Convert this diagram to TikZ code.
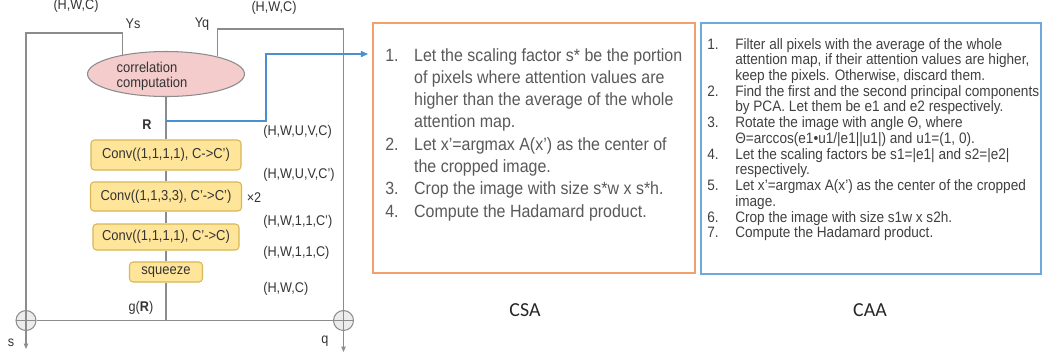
\documentclass[tikz,border=0pt]{standalone}
\usepackage{fontspec}
\setmainfont{Liberation Sans}[FakeStretch=0.9]
\newfontfamily\calfont{Carlito}
\usetikzlibrary{shapes.geometric,arrows.meta,calc}

\definecolor{wiregray}{HTML}{8C8C8C}
\definecolor{txtgray}{HTML}{333333}
\definecolor{csatext}{HTML}{595959}
\definecolor{caatext}{HTML}{404040}
\definecolor{corrpink}{HTML}{F4CCCC}
\definecolor{convfill}{HTML}{FFE599}
\definecolor{convline}{HTML}{D6B656}
\definecolor{csaline}{HTML}{F1A06B}
\definecolor{caaline}{HTML}{6FA8DC}
\definecolor{arrowblue}{HTML}{4A90D0}

\tikzset{
  wire/.style={draw=wiregray,line width=0.6pt},
  lbl/.style={inner sep=0pt,font=\fontsize{8}{8.5}\selectfont,text=txtgray},
  dimlbl/.style={lbl,anchor=west},
  convbox/.style={draw=convline,fill=convfill,rounded corners=2pt,line width=0.6pt,
    inner sep=0pt,font=\fontsize{8.2}{8.5}\selectfont,text=txtgray},
  plusnode/.style={circle,draw=wiregray,fill=gray!15,line width=0.6pt,minimum size=0.4cm,inner sep=0pt,
    path picture={\draw[wiregray,line width=0.6pt]
      (path picture bounding box.north) -- (path picture bounding box.south)
      (path picture bounding box.west) -- (path picture bounding box.east);}},
  listbox/.style={draw,line width=0.7pt,inner sep=0pt},
  caption/.style={font=\calfont\fontsize{11.3}{13}\selectfont,text=black!85},
}

\begin{document}
\begin{tikzpicture}[x=0.02cm,y=-0.02cm]
  \useasboundingbox (0,0) rectangle (1043,360);
  %% correlation and the conv stack
  \node[ellipse,draw=wiregray,fill=corrpink,line width=0.6pt,
    minimum width=3.14cm,minimum height=0.9cm,inner sep=0pt] (corr) at (166,74) {};
  \node[lbl,align=left,font=\fontsize{8.2}{8.5}\selectfont] (corrtxt) at (152,76.5) {correlation\\computation};

  \node[convbox,minimum width=3cm,minimum height=0.6cm] (conv1) at (166,155) {Conv((1,1,1,1), C->C’)};
  \node[convbox,minimum width=3.02cm,minimum height=0.58cm] (conv2) at (166,196.5) {Conv((1,1,3,3), C’->C’)};
  \node[convbox,minimum width=2.92cm,minimum height=0.52cm] (conv3) at (166,237) {Conv((1,1,1,1), C’->C)};
  \node[convbox,minimum width=1.46cm,minimum height=0.4cm] (squeeze) at (166,272) {squeeze};

  \node[plusnode] (plusS) at (26,320.5) {};
  \node[plusnode] (plusQ) at (343.5,320.5) {};

  \coordinate (sbend) at (26,33);
  \coordinate (qbend) at (343.5,29);
  \coordinate (sout) at (26,349);
  \coordinate (qout) at (343.5,352);
  \coordinate (rjoin) at (166,121);
  \coordinate (gjoin) at (166,320.5);
  \coordinate (rbend) at (266,54);
  \coordinate (csain) at (368,54);

  %% labels
  \node[lbl] (dimS) at (76,6) {(H,W,C)};
  \node[lbl] (dimQ) at (274,8) {(H,W,C)};
  \node[lbl] (ys) at (133,24) {Ys};
  \node[lbl] (yq) at (202,24) {Yq};
  \node[lbl,font=\fontsize{8}{8.5}\selectfont\bfseries] (rlbl) at (147,125) {R};
  \node[dimlbl] (dimR) at (263,132) {(H,W,U,V,C)};
  \node[dimlbl] (dim1) at (263,175) {(H,W,U,V,C’)};
  \node[dimlbl] (dim2) at (263,222) {(H,W,1,1,C’)};
  \node[dimlbl] (dim3) at (263,253) {(H,W,1,1,C)};
  \node[dimlbl] (dim4) at (263,289) {(H,W,C)};
  \node[lbl] (times2) at (254,198) {×2};
  \node[lbl] (glbl) at (141,308) {g(\textbf{R})};
  \node[lbl] (slbl) at (11,343) {s};
  \node[lbl] (qlbl) at (325,341) {q};

  \draw[wire] (corr.156) |- (sbend) -- (plusS);
  \draw[wire] (corr.19) |- (qbend) -- (plusQ);
  \path[wire] (corr) edge (conv1) (conv1) edge (conv2) (conv2) edge (conv3)
    (conv3) edge (squeeze) (squeeze) edge (gjoin);
  \draw[wire] (plusS) -- (plusQ);
  \draw[wire,-{Triangle[length=3pt,width=2.4pt]}] (plusS) -- (sout);
  \draw[wire,-{Triangle[length=3pt,width=2.4pt]}] (plusQ) -- (qout);
  \draw[draw=arrowblue,line width=0.6pt,-{Triangle[length=4pt,width=3.5pt]}] (rjoin) -| (rbend) -- (csain);

  %% CSA
  \node[listbox,draw=csaline,minimum width=6.44cm,minimum height=5cm] (csa) at (534,148) {};
  \node[anchor=base west,inner sep=0pt,text=csatext,font=\fontsize{10.1}{12.7}\selectfont] (csalist) at (385,61) {%
    \begin{tabular}[t]{@{}p{16.4pt}@{}l@{}}
      1. & Let the scaling factor s* be the portion\\
         & of pixels where attention values are\\
         & higher than the average of the whole\\
         & attention map.\\
      2. & Let x’=argmax A(x’) as the center of\\
         & the cropped image.\\
      3. & Crop the image with size s*w x s*h.\\
      4. & Compute the Hadamard product.
    \end{tabular}};

  %% CAA
  \node[listbox,draw=caaline,minimum width=6.8cm,minimum height=5.02cm] (caa) at (871,148.5) {};
  \node[anchor=base west,inner sep=0pt,text=caatext,font=\fontsize{8.6}{8.96}\selectfont] (caalist) at (707,49) {%
    \begin{tabular}[t]{@{}p{15.9pt}@{}l@{}}
      1. & Filter all pixels with the average of the whole\\
         & attention map, if their attention values are higher,\\
         & keep the pixels. Otherwise, discard them.\\
      2. & Find the first and the second principal components\\
         & by PCA. Let them be e1 and e2 respectively.\\
      3. & Rotate the image with angle Θ, where\\
         & Θ=arccos(e1•u1/|e1||u1|) and u1=(1, 0).\\
      4. & Let the scaling factors be s1=|e1| and s2=|e2|\\
         & respectively.\\
      5. & Let x’=argmax A(x’) as the center of the cropped\\
         & image.\\
      6. & Crop the image with size s1w x s2h.\\
      7. & Compute the Hadamard product.
    \end{tabular}};

  \node[caption] (csalbl) at (525,310) {CSA};
  \node[caption] (caalbl) at (870,310) {CAA};
\end{tikzpicture}
\end{document}
